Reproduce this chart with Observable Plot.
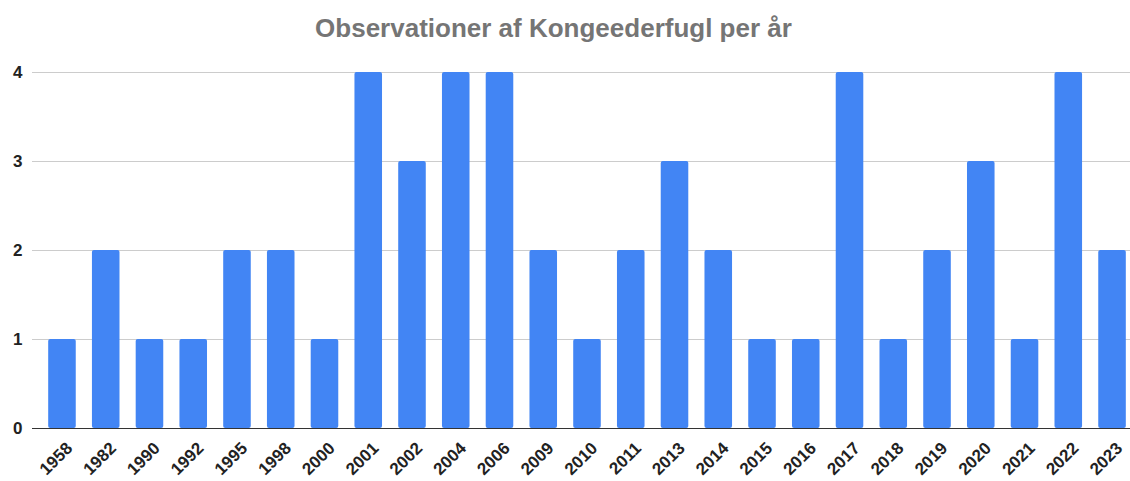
<!DOCTYPE html>
<html><head><meta charset="utf-8">
<script src="https://cdn.jsdelivr.net/npm/d3@7"></script>
<script src="https://cdn.jsdelivr.net/npm/@observablehq/plot@0.6"></script>
<style>
body{margin:0;background:#fff;font-family:"Liberation Sans",Arial,sans-serif}
#title{height:50px;width:1107px;text-align:center;font-weight:bold;font-size:26px;color:#757575;line-height:24px;padding-top:16px;box-sizing:border-box;white-space:nowrap}
#chart svg text{font-size:17px !important;font-weight:bold}
</style></head><body>
<div id="title">Observationer af Kongeederfugl per år</div>
<div id="chart"></div>
<script>
const years = ["1958","1982","1990","1992","1995","1998","2000","2001","2002","2004","2006","2009","2010","2011","2013","2014","2015","2016","2017","2018","2019","2020","2021","2022","2023"];
const counts = [1,2,1,1,2,2,1,4,3,4,4,2,1,2,3,2,1,1,4,1,2,3,1,4,2];
const yTicks = [0,1,2,3,4];
const data = years.map((y,i)=>({year:y,count:counts[i]}));
const chart = Plot.plot({
  width:1130, height:431, marginTop:22, marginBottom:53, marginLeft:32, marginRight:0,
  style:{fontFamily:"'Liberation Sans', Arial, sans-serif", fontSize:"17px", fontWeight:"bold", color:"#222", background:"#fff"},
  x:{domain:years, padding:0.37, range:[32,1142], round:false, label:null},
  y:{domain:[0,4], label:null},
  marks:[
    Plot.ruleY(yTicks.filter(d=>d>0), {stroke:"#ccc"}),
    Plot.barY(data, {x:"year", y:"count", fill:"#4285F4", rx:2}),
    Plot.ruleY([0], {stroke:"#333"}),
    Plot.axisY({ticks:yTicks, tickSize:0, tickPadding:10, tickFormat:d=>String(d), fill:"#222"}),
    Plot.axisX({tickSize:0, tickRotate:-45, tickPadding:17, dx:7, fill:"#222"})
  ]
});
document.getElementById("chart").appendChild(chart);
</script>
</body></html>
